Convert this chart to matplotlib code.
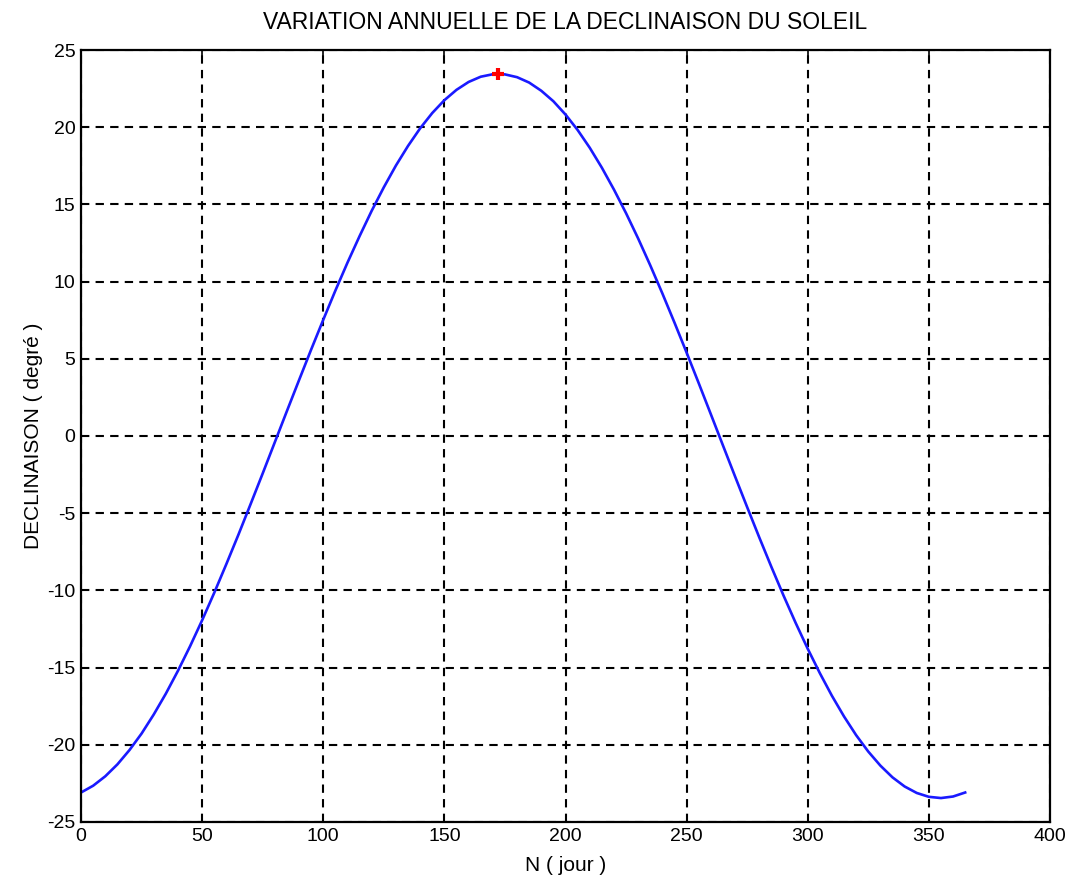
import matplotlib
matplotlib.use('Agg')
import matplotlib.pyplot as plt

# day of the year and solar declination (degrees)
jours = [0, 5, 10, 15, 20, 25, 30, 35, 40, 45, 50, 55, 60, 65, 70, 75, 80,
         85, 90, 95, 100, 105, 110, 115, 120, 125, 130, 135, 140, 145, 150,
         155, 160, 165, 170, 175, 180, 185, 190, 195, 200, 205, 210, 215,
         220, 225, 230, 235, 240, 245, 250, 255, 260, 265, 270, 275, 280,
         285, 290, 295, 300, 305, 310, 315, 320, 325, 330, 335, 340, 345,
         350, 355, 360, 365]
declinaison = [-23.09, -22.65, -22.04, -21.27, -20.34, -19.27, -18.04,
               -16.69, -15.21, -13.62, -11.93, -10.15, -8.29, -6.38, -4.41,
               -2.42, -0.40, 1.62, 3.62, 5.60, 7.53, 9.42, 11.23, 12.95,
               14.59, 16.11, 17.52, 18.79, 19.93, 20.92, 21.75, 22.42, 22.93,
               23.27, 23.43, 23.42, 23.24, 22.89, 22.36, 21.68, 20.82, 19.82,
               18.67, 17.38, 15.96, 14.43, 12.79, 11.05, 9.23, 7.34, 5.40,
               3.42, 1.41, -0.61, -2.62, -4.61, -6.57, -8.48, -10.33, -12.10,
               -13.78, -15.36, -16.83, -18.17, -19.38, -20.44, -21.35, -22.11,
               -22.70, -23.12, -23.37, -23.45, -23.35, -23.09]

# maximum (summer solstice)
max_jour = [172]
max_decl = [23.45]

plt.rcParams['font.family'] = ['Liberation Sans', 'DejaVu Sans']
plt.rcParams['axes.unicode_minus'] = False

fig = plt.figure(figsize=(10.85, 8.85), dpi=100)
ax = fig.add_axes([0.0747, 0.0712, 0.893, 0.8723])

ax.plot(jours, declinaison, color='#1a1aff', linewidth=1.9)
ax.plot(max_jour, max_decl, '+', color='red', markersize=9,
        markeredgewidth=3)

ax.set_xlim(0, 400)
ax.set_ylim(-25, 25)
ax.set_xticks(range(0, 401, 50))
ax.set_yticks(range(-25, 26, 5))
ax.grid(True, color='black', linestyle=(0, (4, 3)), linewidth=1.5)
ax.tick_params(direction='in', labelsize=14, length=5, width=1.2,
               top=True, right=True, pad=4)
for spine in ax.spines.values():
    spine.set_linewidth(1.6)

ax.set_title('VARIATION ANNUELLE DE LA DECLINAISON DU SOLEIL',
             fontsize=16.5, pad=15)
ax.set_xlabel('N ( jour )', fontsize=15, labelpad=8)
ax.set_ylabel('DECLINAISON ( degré )', fontsize=15, labelpad=3)

fig.savefig('out.png', dpi=100)
